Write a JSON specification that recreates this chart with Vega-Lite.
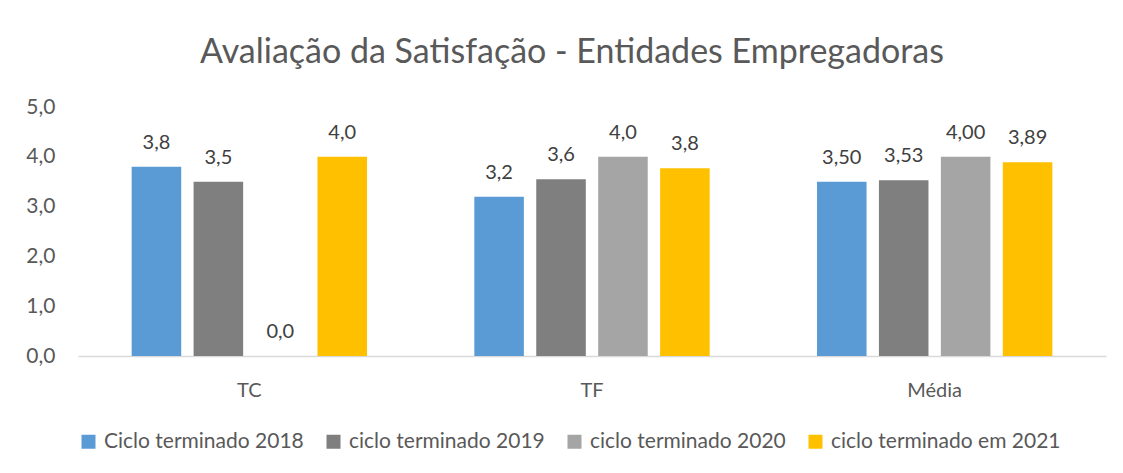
{
  "$schema": "https://vega.github.io/schema/vega-lite/v6.json",
  "autosize": "none",
  "width": 1028,
  "height": 249,
  "padding": {"left": 78, "top": 107, "right": 17, "bottom": 117},
  "background": "white",
  "config": {
    "locale": {"number": {"decimal": ",", "thousands": ".", "grouping": [3], "currency": ["", " €"]}},
    "view": {"stroke": null},
    "font": "Lato"
  },
  "title": {
    "text": "Avaliação da Satisfação - Entidades Empregadoras",
    "fontSize": 34,
    "font": "Lato",
    "fontWeight": "normal",
    "color": "#595959",
    "anchor": "middle",
    "dx": -20,
    "offset": 26
  },
  "data": {
    "values": [
      {"cat": "TC", "serie": "Ciclo terminado 2018", "v": 3.8, "label": "3,8"},
      {"cat": "TC", "serie": "ciclo terminado 2019", "v": 3.5, "label": "3,5"},
      {"cat": "TC", "serie": "ciclo terminado 2020", "v": 0.0, "label": "0,0"},
      {"cat": "TC", "serie": "ciclo terminado em 2021", "v": 4.0, "label": "4,0"},
      {"cat": "TF", "serie": "Ciclo terminado 2018", "v": 3.2, "label": "3,2"},
      {"cat": "TF", "serie": "ciclo terminado 2019", "v": 3.55, "label": "3,6"},
      {"cat": "TF", "serie": "ciclo terminado 2020", "v": 4.0, "label": "4,0"},
      {"cat": "TF", "serie": "ciclo terminado em 2021", "v": 3.77, "label": "3,8"},
      {"cat": "Média", "serie": "Ciclo terminado 2018", "v": 3.5, "label": "3,50"},
      {"cat": "Média", "serie": "ciclo terminado 2019", "v": 3.53, "label": "3,53"},
      {"cat": "Média", "serie": "ciclo terminado 2020", "v": 4.0, "label": "4,00"},
      {"cat": "Média", "serie": "ciclo terminado em 2021", "v": 3.89, "label": "3,89"}
    ]
  },
  "encoding": {
    "x": {
      "field": "cat", "type": "nominal", "sort": ["TC", "TF", "Média"],
      "scale": {"paddingInner": 0.277, "paddingOuter": 0.1385},
      "axis": {"title": null, "labelAngle": 0, "ticks": false, "domainColor": "#D9D9D9", "domainWidth": 1.5,
               "labelFontSize": 20, "labelColor": "#595959", "labelPadding": 24, "labelFont": "Lato"}
    },
    "xOffset": {
      "field": "serie", "type": "nominal",
      "sort": ["Ciclo terminado 2018", "ciclo terminado 2019", "ciclo terminado 2020", "ciclo terminado em 2021"],
      "scale": {"paddingInner": 0.2, "paddingOuter": 0.1}
    },
    "y": {
      "field": "v", "type": "quantitative",
      "scale": {"domain": [0, 5]},
      "axis": {"title": null, "values": [0, 1, 2, 3, 4, 5], "format": ".1f", "domain": false, "ticks": false, "grid": false,
               "labelFontSize": 21, "labelColor": "#595959", "labelPadding": 23, "labelFont": "Lato"}
    }
  },
  "layer": [
    {
      "mark": {"type": "bar"},
      "encoding": {
        "color": {
          "field": "serie", "type": "nominal",
          "sort": ["Ciclo terminado 2018", "ciclo terminado 2019", "ciclo terminado 2020", "ciclo terminado em 2021"],
          "scale": {"range": ["#5B9BD5", "#7F7F7F", "#A5A5A5", "#FFC000"]},
          "legend": {
            "title": null, "orient": "none", "direction": "horizontal", "legendX": 0, "legendY": 324,
            "symbolType": "square", "symbolSize": 196, "symbolStrokeWidth": 0,
            "labelFontSize": 21, "labelColor": "#595959", "labelFont": "Lato", "labelLimit": 0,
            "columnPadding": 19, "labelOffset": 5
          }
        }
      }
    },
    {
      "mark": {"type": "text", "baseline": "middle", "dy": -24, "fontSize": 20, "color": "#404040", "font": "Lato"},
      "encoding": {
        "text": {"field": "label", "type": "nominal"}
      }
    }
  ]
}
